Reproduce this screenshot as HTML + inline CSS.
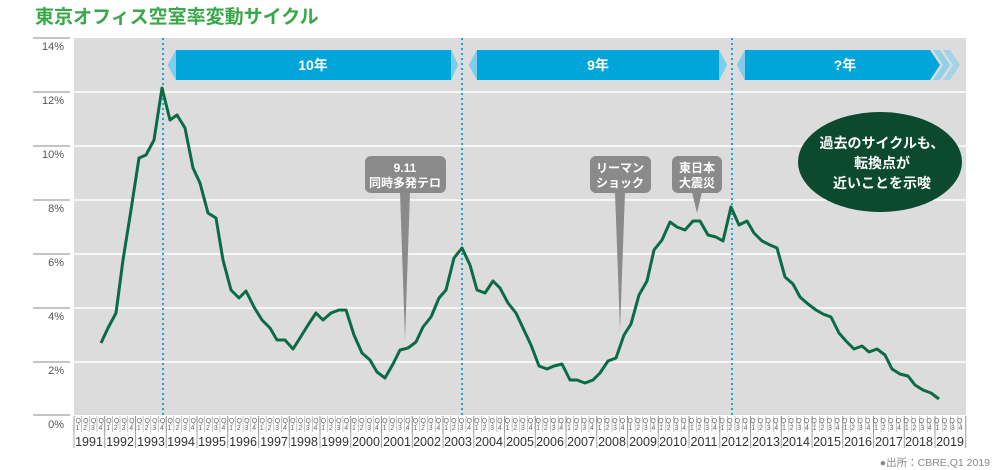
<!DOCTYPE html>
<html><head><meta charset="utf-8"><style>
body{margin:0;background:#fff;}
svg{display:block;font-family:"Liberation Sans","Noto Sans CJK JP",sans-serif;}
</style></head><body>
<svg width="1000" height="470" viewBox="0 0 1000 470">
<defs>
<pattern id="q" x="73.6" y="0" width="7.6875" height="470" patternUnits="userSpaceOnUse"><line x1="0.3" y1="0" x2="0.3" y2="470" stroke="#999" stroke-width="0.6"/></pattern>
<pattern id="yr" x="73.6" y="0" width="30.75" height="470" patternUnits="userSpaceOnUse"><line x1="0.4" y1="0" x2="0.4" y2="470" stroke="#888" stroke-width="0.8"/></pattern>
</defs>
<text x="35" y="23" font-size="19" font-weight="bold" fill="#3aa84a">東京オフィス空室率変動サイクル</text>
<rect x="74" y="38" width="892" height="377" fill="#dcdcdc"/>
<g stroke="#fff" stroke-width="1.5">
<line x1="74" y1="92" x2="966" y2="92"/><line x1="74" y1="146" x2="966" y2="146"/><line x1="74" y1="200" x2="966" y2="200"/><line x1="74" y1="254" x2="966" y2="254"/><line x1="74" y1="308" x2="966" y2="308"/><line x1="74" y1="362" x2="966" y2="362"/>
</g>
<g stroke="#888" stroke-width="1"><line x1="33" y1="38" x2="70" y2="38"/><line x1="33" y1="92" x2="70" y2="92"/><line x1="33" y1="146" x2="70" y2="146"/><line x1="33" y1="200" x2="70" y2="200"/><line x1="33" y1="254" x2="70" y2="254"/><line x1="33" y1="308" x2="70" y2="308"/><line x1="33" y1="362" x2="70" y2="362"/><line x1="33" y1="415" x2="70" y2="415"/></g>
<g font-size="11" fill="#555" text-anchor="end">
<text x="64" y="50">14%</text><text x="64" y="104">12%</text><text x="64" y="158">10%</text><text x="64" y="212">8%</text><text x="64" y="266">6%</text><text x="64" y="320">4%</text><text x="64" y="374">2%</text><text x="64" y="428">0%</text>
</g>
<rect x="73.6" y="416" width="892" height="16" fill="url(#q)"/>
<rect x="73.6" y="416" width="893" height="32" fill="url(#yr)"/>
<text x="75.5" y="423" font-size="7" fill="#666" textLength="887" lengthAdjust="spacing">QQQQQQQQQQQQQQQQQQQQQQQQQQQQQQQQQQQQQQQQQQQQQQQQQQQQQQQQQQQQQQQQQQQQQQQQQQQQQQQQQQQQQQQQQQQQQQQQQQQQQQQQQQQQQQQQQQQQ</text>
<text x="75.5" y="430" font-size="7" fill="#666" textLength="887" lengthAdjust="spacing">12341234123412341234123412341234123412341234123412341234123412341234123412341234123412341234123412341234123412341234</text>
<g font-size="12.5" fill="#333" text-anchor="middle">
<text x="89" y="446">1991</text><text x="120" y="446">1992</text><text x="151" y="446">1993</text><text x="181" y="446">1994</text><text x="212" y="446">1995</text><text x="243" y="446">1996</text><text x="274" y="446">1997</text><text x="304" y="446">1998</text><text x="335" y="446">1999</text><text x="366" y="446">2000</text><text x="397" y="446">2001</text><text x="427" y="446">2002</text><text x="458" y="446">2003</text><text x="489" y="446">2004</text><text x="520" y="446">2005</text><text x="550" y="446">2006</text><text x="581" y="446">2007</text><text x="612" y="446">2008</text><text x="643" y="446">2009</text><text x="673" y="446">2010</text><text x="704" y="446">2011</text><text x="735" y="446">2012</text><text x="766" y="446">2013</text><text x="796" y="446">2014</text><text x="827" y="446">2015</text><text x="858" y="446">2016</text><text x="889" y="446">2017</text><text x="919" y="446">2018</text><text x="950" y="446">2019</text>
</g>
<g stroke="#1aa3dc" stroke-width="2" stroke-dasharray="2,3">
<line x1="163" y1="38" x2="163" y2="415"/><line x1="462" y1="38" x2="462" y2="415"/><line x1="732" y1="38" x2="732" y2="415"/>
</g>
<!-- banners -->
<g fill="#00a5d9">
<polygon points="176,50 451,50 458,65 451,80 176,80 168,65"/>
<polygon points="477,50 719,50 727,65 719,80 477,80 469,65"/>
<polygon points="745,50 930,50 940,65 930,80 745,80 737,65"/>
</g>
<g fill="#7fcdee">
<polygon points="176,50 176,80 168,65"/><polygon points="451,50 451,80 458,65"/>
<polygon points="477,50 477,80 469,65"/><polygon points="719,50 719,80 727,65"/>
<polygon points="745,50 745,80 737,65"/>
<polygon points="933,50 940,50 950,65 940,80 933,80 943,65" opacity=".8"/>
<polygon points="943,50 950,50 960,65 950,80 943,80 953,65" opacity=".6"/>
</g>
<g font-size="14" font-weight="bold" fill="#fff" text-anchor="middle">
<text x="313" y="70">10年</text><text x="598" y="70">9年</text><text x="845" y="70">?年</text>
</g>
<!-- callouts -->
<g fill="#8a8a8a">
<rect x="365" y="156" width="81" height="37" rx="6"/><polygon points="400,192 410,192 405,340"/>
<rect x="590" y="156" width="61" height="37" rx="6"/><polygon points="615,192 625,192 620,330"/>
<rect x="672" y="156" width="50" height="37" rx="6"/><polygon points="692,192 702,192 697,213"/>
</g>
<g font-size="12" font-weight="bold" fill="#fff" text-anchor="middle">
<text x="405" y="172">9.11</text><text x="405" y="187">同時多発テロ</text>
<text x="620" y="172">リーマン</text><text x="620" y="187">ショック</text>
<text x="697" y="172">東日本</text><text x="697" y="187">大震災</text>
</g>
<ellipse cx="880" cy="162" rx="82" ry="50" fill="#0b4a2f"/>
<g font-size="14" font-weight="bold" fill="#fff" text-anchor="middle">
<text x="882" y="148">過去のサイクルも、</text><text x="882" y="168">転換点が</text><text x="882" y="188">近いことを示唆</text>
</g>
<polyline fill="none" stroke="#0b6b44" stroke-width="3" stroke-linejoin="round" points="101,343 108,328 116,313 123,260 131,210 139,158 146,155 154,140 162,88 170,120 177,115 185,128 193,168 200,183 208,213 216,218 223,260 231,290 239,298 246,291 254,307 262,320 270,328 277,340 285,340 293,349 300,338 308,325 316,313 323,320 331,313 339,310 346,310 354,335 362,353 370,360 377,372 385,378 393,364 400,350 408,348 416,342 423,327 431,317 439,298 446,290 454,258 462,248 470,265 477,290 485,293 493,281 500,288 508,303 516,313 523,328 531,345 539,366 547,369 554,366 562,364 570,380 577,380 585,383 593,380 600,373 608,361 616,358 624,335 631,324 639,295 647,281 654,250 662,240 670,222 677,227 685,230 693,221 700,221 708,235 716,237 723,241 731,207 739,225 747,221 754,233 762,241 770,245 777,248 785,277 793,284 800,297 808,304 816,310 823,314 831,317 839,333 846,341 854,349 862,346 869,352 877,349 885,355 892,369 900,374 908,376 915,385 923,390 931,393 939,399"/>
<text x="990" y="466" font-size="10.5" fill="#888" text-anchor="end">●出所：CBRE,Q1 2019</text>
</svg>
</body></html>
